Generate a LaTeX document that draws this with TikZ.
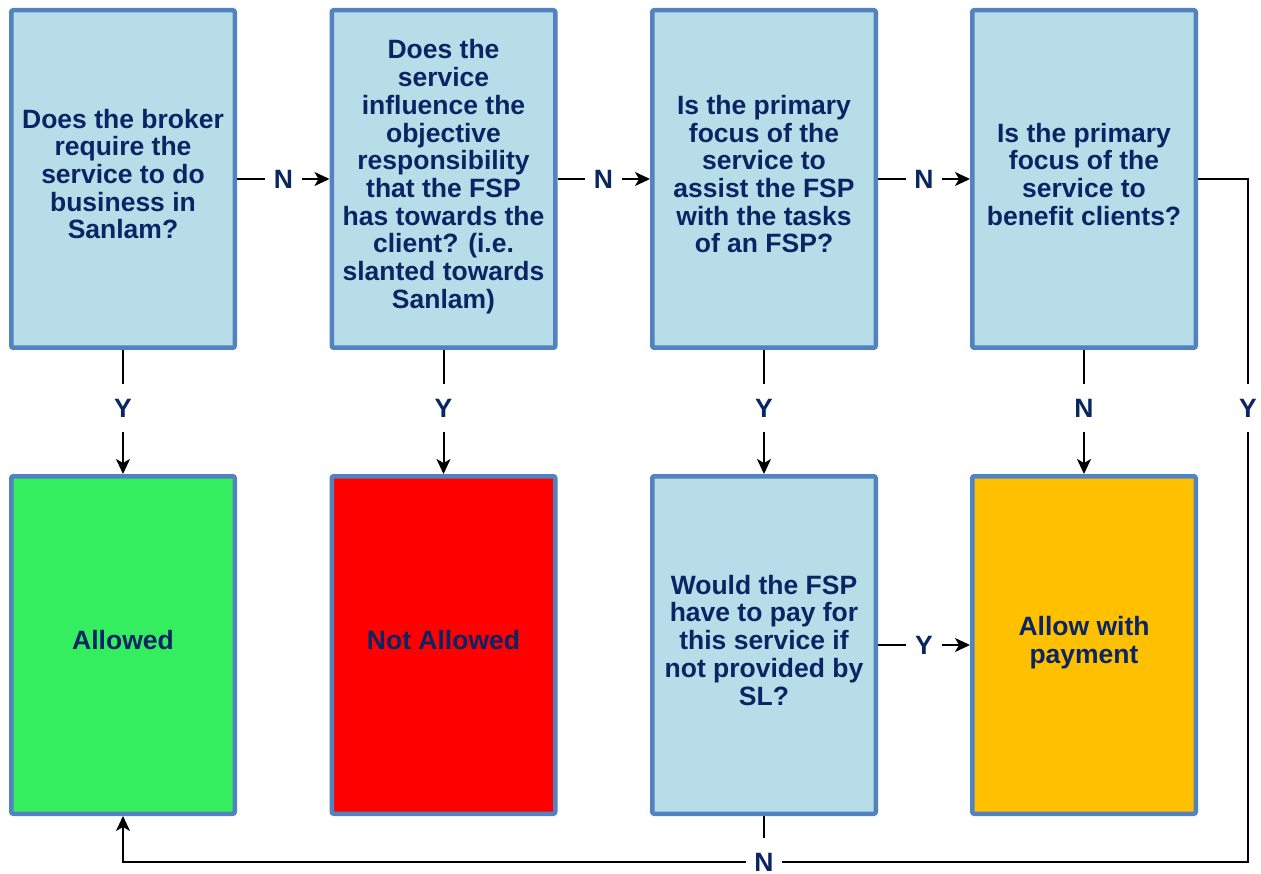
\documentclass[tikz,border=0pt]{standalone}
\usepackage{fontspec}
\setmainfont{Liberation Sans}
\usetikzlibrary{arrows.meta}
\definecolor{boxblue}{HTML}{B7DDE8}
\definecolor{bordblue}{HTML}{5283C0}
\definecolor{navy}{HTML}{0B2463}
\definecolor{okgreen}{HTML}{34EE60}
\definecolor{nored}{HTML}{FF0000}
\definecolor{payorange}{HTML}{FFC000}
\newcommand\lowstrut{\rule[-10pt]{0pt}{1pt}}
\begin{document}
\begin{tikzpicture}[x=1pt,y=-1pt,
  txt/.style={text=navy, font=\bfseries\fontsize{26.5}{27.7}\selectfont},
  box/.style={txt, draw=bordblue, line width=4.5pt, rounded corners=2pt,
    minimum width=223.5pt, minimum height=337.5pt, align=center, inner sep=0pt},
  qbox/.style={box, fill=boxblue},
  lbl/.style={txt, inner xsep=8.5pt, inner ysep=15pt},
  conn/.style={line width=2pt, draw=black},
  arr/.style={conn, -{Stealth[length=15pt,width=14pt,inset=4pt]}}
]
\useasboundingbox (0,0) rectangle (1261,874);

\node[qbox] (q1) at (123,179) {Does the broker\\require the\\service to do\\business in\\Sanlam?\lowstrut};
\node[qbox] (q2) at (443.5,179) {Does the\\service\\influence the\\objective\\responsibility\\that the FSP\\has towards the\\client? (i.e.\\slanted towards\\Sanlam)\lowstrut};
\node[qbox] (q3) at (764,179) {Is the primary\\focus of the\\service to\\assist the FSP\\with the tasks\\of an FSP?\lowstrut};
\node[qbox] (q4) at (1084,179) {Is the primary\\focus of the\\service to\\benefit clients?\lowstrut};
\node[box, fill=okgreen] (allowed) at (123,645) {Allowed\lowstrut};
\node[box, fill=nored] (notallowed) at (443.5,645) {Not Allowed\lowstrut};
\node[qbox] (q5) at (764,645) {Would the FSP\\have to pay for\\this service if\\not provided by\\SL?\lowstrut};
\node[box, fill=payorange] (pay) at (1084,645) {Allow with\\payment\lowstrut};

% labels
\node[lbl] (n1) at (283.5,179) {N};
\node[lbl] (n2) at (603.5,179) {N};
\node[lbl] (n3) at (924,179) {N};
\node[lbl] (y1) at (123,408) {Y};
\node[lbl] (y2) at (443.5,408) {Y};
\node[lbl] (y3) at (764,408) {Y};
\node[lbl] (n4) at (1084,408) {N};
\node[lbl] (y4) at (924,645) {Y};
\node[lbl] (y5) at (1248,408) {Y};
\node[lbl] (n5) at (764,862) {N};
\coordinate (r1) at (1248,179);
\coordinate (r2) at (1248,862);

% connectors
\draw[conn] (q1.east) -- (n1);  \draw[arr] (n1) -- (q2.west);
\draw[conn] (q2.east) -- (n2);  \draw[arr] (n2) -- (q3.west);
\draw[conn] (q3.east) -- (n3);  \draw[arr] (n3) -- (q4.west);
\draw[conn] (q1.south) -- (y1); \draw[arr] (y1) -- (allowed.north);
\draw[conn] (q2.south) -- (y2); \draw[arr] (y2) -- (notallowed.north);
\draw[conn] (q3.south) -- (y3); \draw[arr] (y3) -- (q5.north);
\draw[conn] (q4.south) -- (n4); \draw[arr] (n4) -- (pay.north);
\draw[conn] (q5.east) -- (y4);  \draw[arr] (y4) -- (pay.west);
\draw[conn] (q5.south) -- (n5);
\draw[arr] (n5) -- (allowed.south |- n5) -- (allowed.south);
\draw[conn] (q4.east) -- (r1) -- (y5);
\draw[conn] (y5) -- (r2) -- (n5);
\end{tikzpicture}
\end{document}
